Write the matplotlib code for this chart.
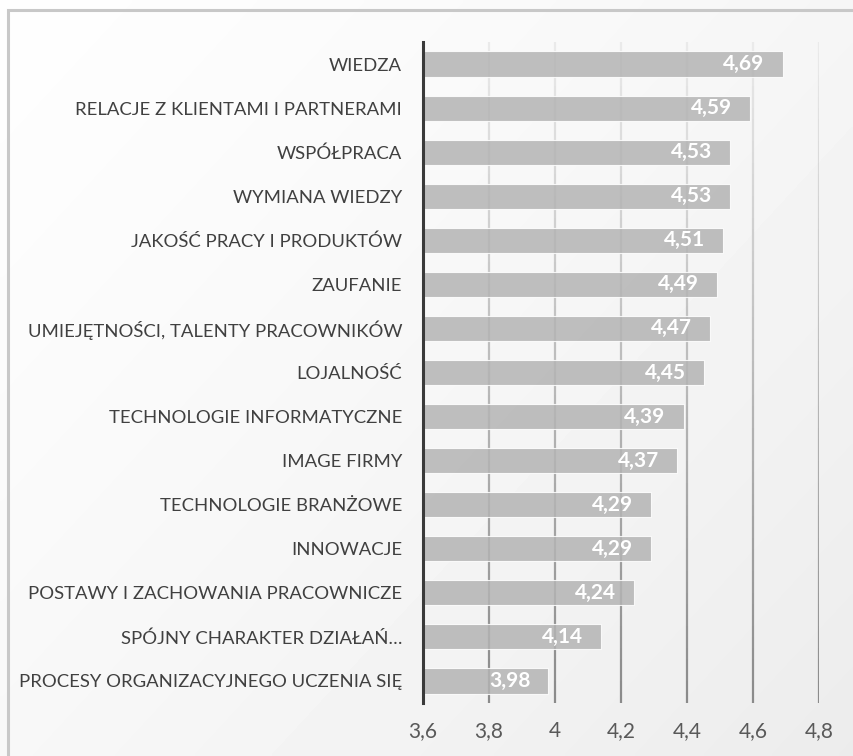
import numpy as np
import matplotlib
matplotlib.use("Agg")
import matplotlib.pyplot as plt
from matplotlib.collections import LineCollection
from matplotlib.patches import Rectangle

categories = [
    "WIEDZA",
    "RELACJE Z KLIENTAMI I PARTNERAMI",
    "WSPÓŁPRACA",
    "WYMIANA WIEDZY",
    "JAKOŚĆ PRACY I PRODUKTÓW",
    "ZAUFANIE",
    "UMIEJĘTNOŚCI, TALENTY PRACOWNIKÓW",
    "LOJALNOŚĆ",
    "TECHNOLOGIE INFORMATYCZNE",
    "IMAGE FIRMY",
    "TECHNOLOGIE BRANŻOWE",
    "INNOWACJE",
    "POSTAWY I ZACHOWANIA PRACOWNICZE",
    "SPÓJNY CHARAKTER DZIAŁAŃ…",
    "PROCESY ORGANIZACYJNEGO UCZENIA SIĘ",
]
values = [4.69, 4.59, 4.53, 4.53, 4.51, 4.49, 4.47, 4.45, 4.39, 4.37,
          4.29, 4.29, 4.24, 4.14, 3.98]
x_ticks = [3.6, 3.8, 4.0, 4.2, 4.4, 4.6, 4.8]
x_tick_labels = ["3,6", "3,8", "4", "4,2", "4,4", "4,6", "4,8"]
x_min, x_max = 3.6, 4.8

FONT = ["Lato", "DejaVu Sans"]
plt.rcParams["font.family"] = FONT

W, H = 854, 756
fig = plt.figure(figsize=(W / 100, H / 100), dpi=100)

# soft background shading
bg = fig.add_axes([0, 0, 1, 1], zorder=-10)
yy, xx = np.mgrid[0:1:200j, 0:1:200j]
shade = 0.995 - 0.07 * (0.55 * xx + 0.45 * yy) ** 1.3
bg.imshow(shade, cmap="gray", vmin=0, vmax=1, extent=[0, 1, 0, 1],
          aspect="auto", origin="upper", interpolation="bilinear")
bg.set_xlim(0, 1)
bg.set_ylim(0, 1)
bg.axis("off")
# frame line around the chart area
bg.add_patch(Rectangle((8 / W, -0.05), 1.2, 1 - 10 / H + 0.05,
                       fill=False, edgecolor="#c8c8c8", linewidth=2.2))

left_px, right_px, top_px, bottom_px = 423, 819, 42, 703
ax = fig.add_axes([left_px / W, 1 - bottom_px / H,
                   (right_px - left_px) / W, (bottom_px - top_px) / H])
ax.set_facecolor("none")

n = len(categories)
ypos = np.arange(n)
ax.set_xlim(x_min, x_max)
ax.set_ylim(n - 0.5, -0.5)

# vertical gridlines, fading towards the top
segs, cols = [], []
steps = 60
for xv in x_ticks[1:]:
    ys = np.linspace(-0.5, n - 0.5, steps + 1)
    for i in range(steps):
        segs.append([(xv, ys[i]), (xv, ys[i + 1])])
        t = (i + 0.5) / steps
        g = 0.92 - 0.38 * t
        cols.append((g, g, g))
ax.add_collection(LineCollection(segs, colors=cols, linewidths=1.6, zorder=1))

ax.barh(ypos, [v - x_min for v in values], left=x_min, height=0.57,
        color="#b4b4b4", alpha=0.85, edgecolor="white", linewidth=0.8,
        zorder=2)

for y, v in zip(ypos, values):
    ax.annotate(f"{v:.2f}".replace(".", ","), xy=(v, y),
                xytext=(-18, 0), textcoords="offset pixels",
                ha="right", va="center", color="white",
                fontsize=15, fontweight="bold", zorder=3)

ax.set_yticks(ypos)
ax.set_yticklabels(categories)
ax.set_xticks(x_ticks)
ax.set_xticklabels(x_tick_labels)
ax.tick_params(axis="y", length=0, pad=15, labelsize=13.3, labelcolor="#404040")
ax.tick_params(axis="x", length=0, pad=13, labelsize=15, labelcolor="#595959")

for s in ["top", "right", "bottom"]:
    ax.spines[s].set_visible(False)
ax.spines["left"].set_color("#3a3a3a")
ax.spines["left"].set_linewidth(2.2)
ax.spines["left"].set_zorder(4)

fig.savefig("out.png", dpi=100)
